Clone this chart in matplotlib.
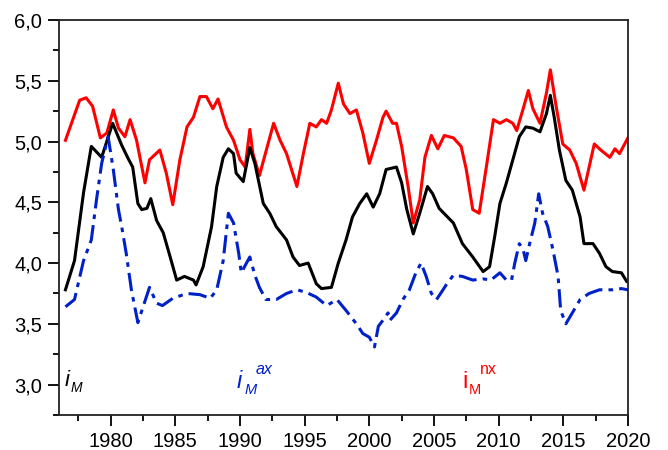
import matplotlib
matplotlib.use("Agg")
import matplotlib.pyplot as plt
from matplotlib.ticker import MultipleLocator, FuncFormatter

# i_M (black)
years_m = [1976.5, 1977.2, 1977.9, 1978.5, 1979.3, 1980.15, 1980.85, 1981.35, 1981.7, 1982.1,
           1982.4, 1982.8, 1983.1, 1983.55, 1984.06, 1984.6, 1985.1, 1985.7, 1986.4, 1986.6,
           1987.15, 1987.8, 1988.2, 1988.7, 1989.1, 1989.5, 1989.7, 1990.25, 1990.76, 1991.15,
           1991.8, 1992.3, 1992.8, 1993.6, 1994.1, 1994.6, 1995.27, 1995.9, 1996.3, 1997.07,
           1997.6, 1998.2, 1998.7, 1999.26, 1999.8, 2000.3, 2000.8, 2001.3, 2002.1, 2002.5,
           2002.9, 2003.4, 2003.9, 2004.5, 2004.9, 2005.4, 2006.5, 2007.2, 2008.0, 2008.8,
           2009.3, 2009.7, 2010.1, 2010.6, 2011.1, 2011.6, 2012.1, 2012.65, 2013.2, 2013.7,
           2014.0, 2014.3, 2014.7, 2015.2, 2015.7, 2016.3, 2016.6, 2017.3, 2017.8, 2018.3,
           2018.8, 2019.5, 2019.9]
vals_m = [3.78, 4.02, 4.58, 4.96, 4.87, 5.15, 4.97, 4.86, 4.79, 4.49,
          4.44, 4.45, 4.53, 4.35, 4.25, 4.05, 3.86, 3.89, 3.86, 3.82,
          3.97, 4.30, 4.63, 4.87, 4.94, 4.90, 4.74, 4.67, 4.95, 4.82,
          4.49, 4.41, 4.30, 4.19, 4.05, 3.98, 4.00, 3.83, 3.79, 3.80,
          4.00, 4.19, 4.38, 4.49, 4.57, 4.46, 4.57, 4.77, 4.79, 4.66,
          4.44, 4.24, 4.41, 4.63, 4.57, 4.45, 4.33, 4.16, 4.05, 3.93,
          3.97, 4.22, 4.49, 4.66, 4.85, 5.04, 5.12, 5.11, 5.08, 5.23,
          5.38, 5.20, 4.93, 4.68, 4.60, 4.38, 4.16, 4.16, 4.08, 3.97,
          3.93, 3.92, 3.85]

# i_M^nx (red)
years_nx = [1976.5, 1977.6, 1978.1, 1978.6, 1979.2, 1979.7, 1980.2, 1980.6, 1981.1, 1981.5,
            1982.0, 1982.65, 1983.0, 1983.8, 1984.3, 1984.8, 1985.35, 1985.9, 1986.4, 1986.9,
            1987.4, 1987.9, 1988.3, 1988.95, 1989.5, 1990.0, 1990.4, 1990.76, 1991.0, 1991.5,
            1992.6, 1993.1, 1993.6, 1994.4, 1994.9, 1995.4, 1995.9, 1996.3, 1996.7, 1997.07,
            1997.6, 1998.0, 1998.5, 1999.0, 1999.5, 2000.0, 2000.55, 2001.06, 2001.3, 2001.8,
            2002.1, 2002.5, 2003.0, 2003.4, 2003.9, 2004.3, 2004.8, 2005.3, 2005.8, 2006.5,
            2007.1, 2007.5, 2008.0, 2008.5, 2009.05, 2009.6, 2010.1, 2010.6, 2011.1, 2011.4,
            2011.9, 2012.3, 2012.65, 2013.2, 2013.7, 2014.0, 2014.45, 2014.96, 2015.5, 2016.0,
            2016.6, 2017.0, 2017.4, 2017.9, 2018.6, 2019.0, 2019.35, 2020.0]
vals_nx = [5.01, 5.34, 5.36, 5.29, 5.03, 5.07, 5.26, 5.11, 5.04, 5.18,
           5.01, 4.66, 4.85, 4.93, 4.74, 4.48, 4.85, 5.12, 5.20, 5.37,
           5.37, 5.27, 5.35, 5.12, 5.01, 4.85, 4.79, 5.10, 4.90, 4.72,
           5.15, 5.01, 4.90, 4.63, 4.90, 5.15, 5.12, 5.18, 5.15, 5.26,
           5.48, 5.31, 5.23, 5.26, 5.07, 4.82, 5.01, 5.20, 5.25, 5.15,
           5.15, 4.96, 4.63, 4.33, 4.52, 4.87, 5.05, 4.94, 5.05, 5.03,
           4.96, 4.77, 4.44, 4.41, 4.79, 5.18, 5.15, 5.18, 5.15, 5.09,
           5.27, 5.42, 5.27, 5.15, 5.40, 5.59, 5.29, 4.98, 4.93, 4.82,
           4.60, 4.79, 4.98, 4.93, 4.87, 4.94, 4.90, 5.03]

# i_M^ax (blue)
years_ax = [1976.5, 1977.2, 1977.9, 1978.5, 1978.9, 1979.3, 1979.8, 1980.2, 1980.6, 1980.85,
            1981.2, 1981.6, 1982.1, 1983.0, 1983.55, 1984.0, 1984.8, 1985.9, 1986.9, 1987.7,
            1988.2, 1988.7, 1989.1, 1989.5, 1989.9, 1990.1, 1990.5, 1990.76, 1991.15, 1991.5,
            1992.0, 1992.8, 1993.6, 1994.4, 1995.1, 1995.9, 1996.7, 1997.5, 1998.2, 1999.0,
            1999.5, 2000.0, 2000.4, 2000.7, 2001.06, 2001.45, 2001.6, 2002.1, 2002.6, 2003.1,
            2003.6, 2004.0, 2004.4, 2004.8, 2005.2, 2005.7, 2006.0, 2006.5, 2007.2, 2008.0,
            2008.8, 2009.4, 2010.1, 2010.6, 2011.0, 2011.25, 2011.6, 2011.9, 2012.1, 2012.4,
            2012.8, 2013.1, 2013.4, 2013.8, 2014.2, 2014.6, 2014.8, 2015.2, 2015.7, 2016.3,
            2017.0, 2017.8, 2018.8, 2019.5, 2020.0]
vals_ax = [3.64, 3.70, 4.02, 4.19, 4.52, 4.82, 5.04, 4.77, 4.44, 4.30,
           4.08, 3.78, 3.51, 3.80, 3.67, 3.65, 3.71, 3.75, 3.74, 3.71,
           3.78, 4.02, 4.41, 4.33, 4.08, 3.92, 4.00, 4.05, 3.90, 3.80,
           3.70, 3.70, 3.75, 3.78, 3.76, 3.72, 3.65, 3.70, 3.61, 3.50,
           3.42, 3.39, 3.31, 3.48, 3.53, 3.59, 3.53, 3.59, 3.70, 3.78,
           3.92, 4.00, 3.89, 3.75, 3.70, 3.78, 3.83, 3.90, 3.89, 3.86,
           3.87, 3.86, 3.92, 3.86, 3.86, 4.00, 4.16, 4.11, 4.02, 4.16,
           4.33, 4.57, 4.41, 4.30, 4.11, 3.89, 3.61, 3.50, 3.59, 3.70,
           3.75, 3.78, 3.78, 3.79, 3.78]

plt.rcParams['font.family'] = ['Liberation Sans', 'DejaVu Sans']

W, H = 668, 450
fig = plt.figure(figsize=(W / 100, H / 100), dpi=100)
ax = fig.add_axes([0.0883, 0.0778, 0.8517, 0.8778])

red = '#ff0000'
blue = '#0020c8'
ax.plot(years_nx, vals_nx, color=red, lw=2.2)
ax.plot(years_m, vals_m, color='black', lw=2.2)
ax.plot(years_ax, vals_ax, color=blue, lw=2.2, dashes=(6, 2, 1.5, 2))

ax.set_xlim(1976, 2020)
ax.set_ylim(2.75, 6.0)
ax.xaxis.set_major_locator(MultipleLocator(5))
ax.xaxis.set_minor_locator(MultipleLocator(2.5))
ax.yaxis.set_major_locator(MultipleLocator(0.5))
ax.yaxis.set_minor_locator(MultipleLocator(0.25))
ax.xaxis.set_major_formatter(FuncFormatter(lambda v, p: f'{int(v)}'))
ax.yaxis.set_major_formatter(FuncFormatter(lambda v, p: f'{v:.1f}'.replace('.', ',')))

ax.tick_params(which='major', direction='out', length=8, width=1.3, labelsize=14.5, pad=4)
ax.tick_params(which='minor', direction='out', length=4, width=1.3)
for s in ax.spines.values():
    s.set_linewidth(1.3)
    s.set_color('#222222')


# series labels: main letter, subscript, superscript (pixel positions)
def label(x, y, s, size, color, style='normal'):
    fig.text(x / W, 1 - y / H, s, fontsize=size, color=color, style=style, va='baseline')


label(65, 386, 'i', 16, 'black', 'italic')
label(70.5, 392.5, 'M', 10, 'black', 'italic')

label(237, 388, 'i', 17, blue, 'italic')
label(245, 393.5, 'M', 10.5, blue, 'italic')
label(256, 373.5, 'ax', 11.5, blue, 'italic')

label(462, 388, 'i', 17, red)
label(469, 393.5, 'M', 10.5, red)
label(480, 373.5, 'nx', 11.5, red)

fig.savefig('out.png', dpi=100)
